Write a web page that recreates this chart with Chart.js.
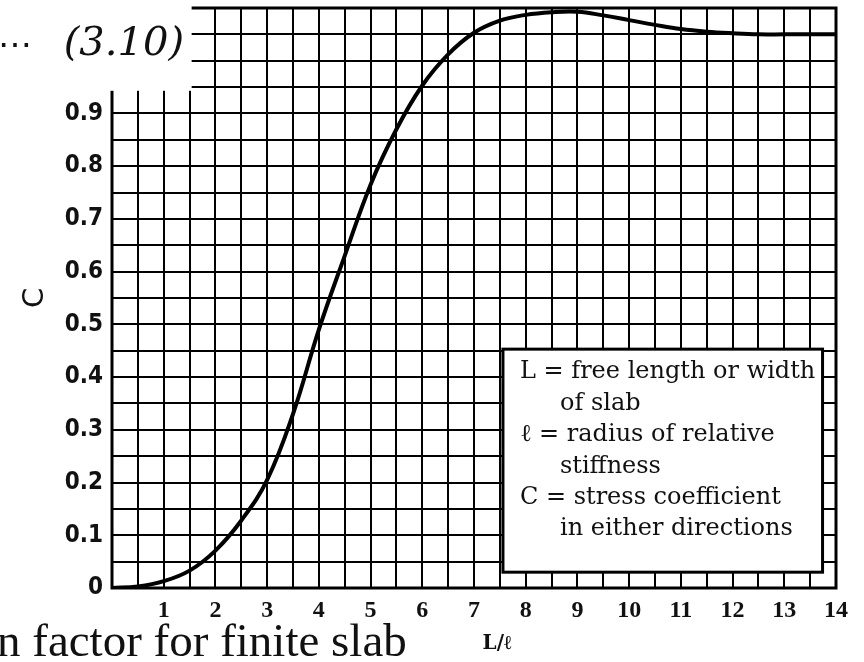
<!DOCTYPE html>
<html>
<head>
<meta charset="utf-8">
<script src="https://cdn.jsdelivr.net/npm/chart.js@4"></script>
<style>
  html, body { margin: 0; padding: 0; background: #fff; }
  #wrap { width: 864px; height: 662px; }
</style>
</head>
<body>
<div id="wrap"><canvas id="chart" width="864" height="662"></canvas></div>
<script>
// L/l values and the stress coefficient C
const ratio = [0, 0.5, 1, 1.5, 2, 2.5, 3, 3.5, 4, 4.5, 5, 5.5, 6, 6.5, 7,
               7.5, 8, 8.5, 9, 9.5, 10, 10.5, 11, 11.5, 12, 12.5, 13, 13.5, 14];
const coeff = [0, 0.003, 0.013, 0.033, 0.071, 0.128, 0.205, 0.33, 0.49, 0.63, 0.765, 0.87, 0.953, 1.012, 1.053,
               1.076, 1.087, 1.092, 1.093, 1.086, 1.077, 1.068, 1.06, 1.055, 1.052, 1.05, 1.05, 1.05, 1.05];

const xTicks = [1, 2, 3, 4, 5, 6, 7, 8, 9, 10, 11, 12, 13, 14];
const yTicks = [0, 0.1, 0.2, 0.3, 0.4, 0.5, 0.6, 0.7, 0.8, 0.9];

const legendEntries = [
    ['L', 'free length or width', 'of slab'],
    ['\u2113', 'radius of relative', 'stiffness'],
    ['C', 'stress coefficient', 'in either directions']
];

const xTitle = 'L/\u2113';
const yTitle = 'C';
const topDots = '\u22EF';
const topText = '(3.10)';
const caption = 'n factor for finite slab';

const near = (v, list) => list.some(t => Math.abs(t - v) < 1e-6);

const overlays = {
    id: 'overlays',
    afterDraw(chart) {
        const ctx = chart.ctx;
        const a = chart.chartArea;
        const xs = chart.scales.x;
        const ys = chart.scales.y;
        ctx.save();

        // frame
        ctx.strokeStyle = '#000';
        ctx.lineWidth = 3;
        ctx.strokeRect(a.left, a.top, a.right - a.left, a.bottom - a.top);

        // legend box
        const bl = xs.getPixelForValue(7.56), br = xs.getPixelForValue(13.74);
        const bt = ys.getPixelForValue(0.453), bb = ys.getPixelForValue(0.03);
        ctx.fillStyle = '#fff';
        ctx.fillRect(bl, bt, br - bl, bb - bt);
        ctx.strokeRect(bl, bt, br - bl, bb - bt);

        ctx.fillStyle = '#111';
        ctx.font = '24px "DejaVu Serif"';
        ctx.textAlign = 'left';
        ctx.textBaseline = 'middle';
        let y = bt + 23;
        legendEntries.forEach(e => {
            ctx.fillText(e[0] + ' = ' + e[1], bl + 17, y);
            y += 31.4;
            ctx.fillText(e[2], bl + 57, y);
            y += 31.4;
        });

        // clipped top-left corner of the scan
        ctx.fillStyle = '#fff';
        ctx.fillRect(0, 0, xs.getPixelForValue(1.54), ys.getPixelForValue(0.943));
        ctx.fillStyle = '#111';
        ctx.textBaseline = 'middle';
        ctx.font = 'italic 40px "DejaVu Serif"';
        ctx.textAlign = 'right';
        ctx.fillText(topText, 184, 45);
        ctx.font = '34px "DejaVu Serif"';
        ctx.textAlign = 'left';
        ctx.fillText(topDots, -2, 47);

        // axis titles
        ctx.font = '29px "DejaVu Sans"';
        ctx.textAlign = 'center';
        ctx.save();
        ctx.translate(35, 298);
        ctx.rotate(-Math.PI / 2);
        ctx.fillText(yTitle, 0, 0);
        ctx.restore();

        ctx.font = 'bold 20px "DejaVu Serif"';
        ctx.fillText(xTitle, 497, 644);

        // cut-off caption
        ctx.font = '47px "Liberation Serif"';
        ctx.textAlign = 'left';
        ctx.textBaseline = 'alphabetic';
        ctx.fillText(caption, -3, 656);

        ctx.restore();
    }
};

new Chart(document.getElementById('chart'), {
    type: 'line',
    data: {
        datasets: [{
            data: ratio.map((r, i) => ({ x: r, y: coeff[i] })),
            borderColor: '#000',
            borderWidth: 4,
            pointRadius: 0,
            fill: false,
            tension: 0.4
        }]
    },
    options: {
        responsive: false,
        animation: false,
        devicePixelRatio: 1,
        layout: { padding: { top: 8, right: 28, left: 0, bottom: 0 } },
        plugins: { legend: { display: false }, tooltip: { enabled: false } },
        scales: {
            x: {
                type: 'linear',
                min: 0,
                max: 14,
                afterFit(s) { s.height = 74; s.paddingLeft = 0; s.paddingRight = 0; },
                border: { display: false },
                grid: { color: '#000', lineWidth: 2, drawTicks: false },
                ticks: {
                    stepSize: 0.5,
                    autoSkip: false,
                    maxRotation: 0,
                    padding: 8,
                    color: '#111',
                    font: { family: 'Liberation Serif', size: 24, weight: 'bold' },
                    callback: v => near(v, xTicks) ? String(v) : ''
                }
            },
            y: {
                min: 0,
                max: 1.1,
                afterFit(s) { s.width = 112; s.paddingTop = 0; s.paddingBottom = 0; },
                border: { display: false },
                grid: { color: '#000', lineWidth: 2, drawTicks: false },
                ticks: {
                    stepSize: 0.05,
                    autoSkip: false,
                    padding: 9,
                    color: '#111',
                    font: { family: 'DejaVu Sans Condensed', size: 24, weight: 'bold' },
                    callback: v => near(v, yTicks) ? (v === 0 ? '0' : v.toFixed(1)) : ''
                }
            }
        }
    },
    plugins: [overlays]
});
</script>
</body>
</html>
